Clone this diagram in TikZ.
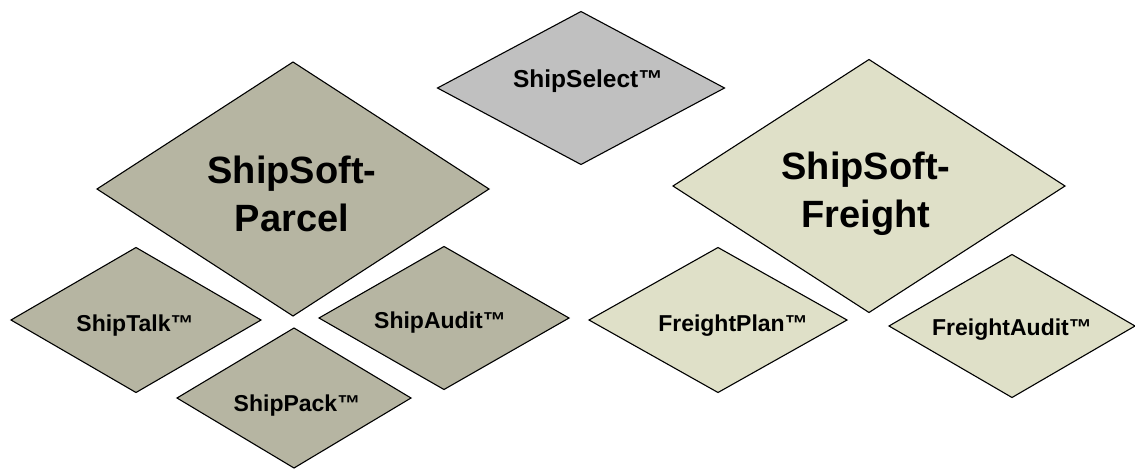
\documentclass[tikz,border=0pt]{standalone}
\usepackage{fontspec}
\setmainfont{Liberation Sans}
\usepackage{tikz}
\usetikzlibrary{shapes.geometric,positioning}
\definecolor{parcelgray}{RGB}{182,181,162}
\definecolor{freightbeige}{RGB}{223,224,200}
\definecolor{selectgray}{RGB}{192,192,192}

\begin{document}
\begin{tikzpicture}[x=1pt, y=-1pt, line width=1.1pt,
	prod/.style={diamond,draw=black,inner sep=0pt,outer sep=0pt},
	parcel/.style={prod,fill=parcelgray},
	freight/.style={prod,fill=freightbeige},
	bigtxt/.style={font=\bfseries\fontsize{38}{48}\selectfont,align=center,inner sep=0pt},
	smalltxt/.style={font=\bfseries\fontsize{23}{27}\selectfont,inner sep=0pt}]
		\useasboundingbox (0,0) rectangle (1135,469);
		% ShipSelect on top
		\node[prod,fill=selectgray,minimum width=287pt,minimum height=153pt] (select) at (581,88) {};
		\node[smalltxt,font=\bfseries\fontsize{24.5}{28}\selectfont] (selecttxt) at (588,81) {ShipSelect™};
		% parcel group
		\node[parcel,minimum width=392pt,minimum height=254pt] (parcelbig) at (293,189) {};
		\node[bigtxt] (parceltxt) at (292,194) {ShipSoft-\\Parcel};
		\node[parcel,minimum width=250pt,minimum height=145pt] (talk) at (136,320) {};
		\node[smalltxt] (talktxt) at (135,326) {ShipTalk™};
		\node[parcel,minimum width=250pt,minimum height=143pt] (audit) at (444,318) {};
		\node[smalltxt] (audittxt) at (440,323) {ShipAudit™};
		\node[parcel,minimum width=234pt,minimum height=140pt] (pack) at (294,398) {};
		\node[smalltxt] (packtxt) at (297,406) {ShipPack™};
		% freight group
		\node[freight,minimum width=392pt,minimum height=253pt] (freightbig) at (869,186) {};
		\node[bigtxt] (freighttxt) at (866,194) {ShipSoft-\\Freight};
		\node[freight,minimum width=258pt,minimum height=145pt] (plan) at (718,320) {};
		\node[smalltxt] (plantxt) at (733,326) {FreightPlan™};
		\node[freight,minimum width=246pt,minimum height=143pt] (faudit) at (1012,326) {};
		\node[smalltxt] (faudittxt) at (1012,330) {FreightAudit™};
\end{tikzpicture}
\end{document}
